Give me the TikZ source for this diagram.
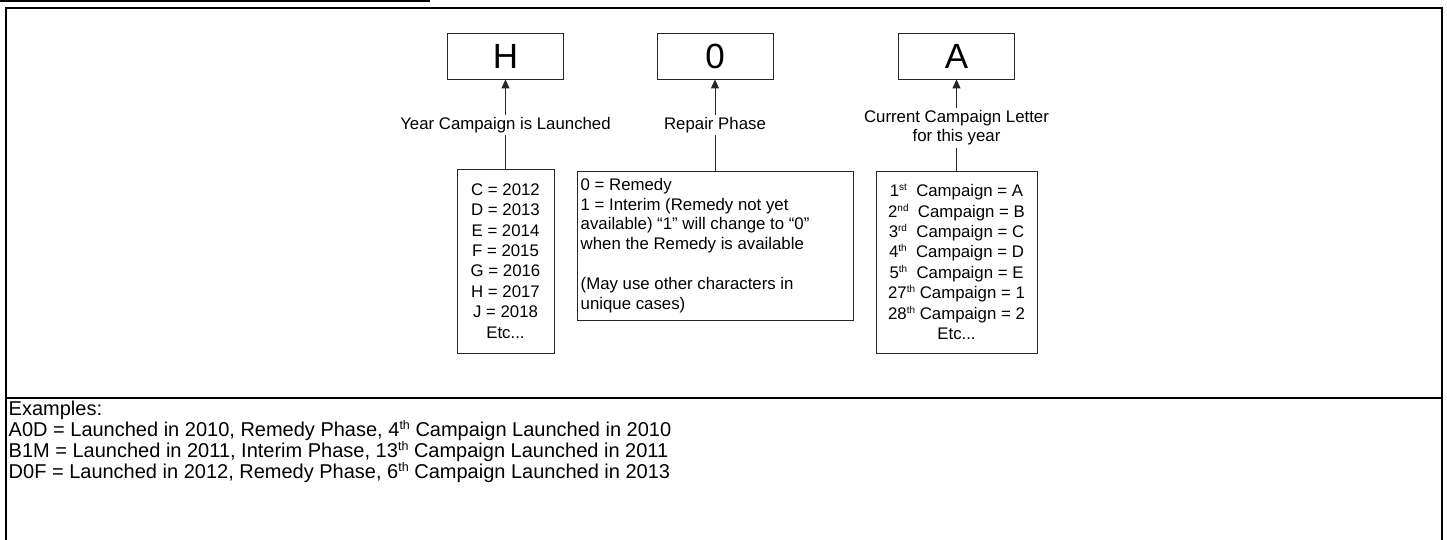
\documentclass[tikz,border=0pt]{standalone}
\usepackage{fontspec}
\setmainfont{Liberation Sans}
\usetikzlibrary{arrows.meta}
\newcommand\sups[1]{\smash{\raisebox{6pt}{\fontsize{10}{10}\selectfont #1}}}
\newcommand\bigsups[1]{\smash{\raisebox{7pt}{\fontsize{12.5}{12.5}\selectfont #1}}}
\begin{document}
\begin{tikzpicture}[x=1pt,y=-1pt,
  frame/.style={line width=2pt,draw=black},
  letter/.style={draw=black!85,line width=0.8pt,minimum width=116pt,minimum height=46pt,inner sep=0pt,font=\fontsize{35}{40}\selectfont},
  lbl/.style={font=\fontsize{16.8}{19.3}\selectfont,align=center,inner sep=2pt,text depth=3.5pt},
  listbox/.style={draw=black!85,line width=0.8pt,inner sep=0pt,align=center,font=\fontsize{16.8}{20.4}\selectfont},
  conn/.style={line width=0.8pt,draw=black!85},
  arr/.style={conn,-{Triangle[length=9pt,width=8pt]}},
  txt/.style={inner sep=0pt,align=left,anchor=north west}]
\useasboundingbox (0,0) rectangle (1447,540);
% heading underline and frame
\draw[line width=2pt] (0,1) -- (430,1);
\draw[frame] (6,542) -- (6,8) -- (1442,8) -- (1442,542);
\draw[frame] (6,398) -- (1442,398);
% code letters
\node[letter] (H) at (505.5,56) {H};
\node[letter] (Z) at (715,56) {0};
\node[letter] (A) at (956.5,56) {A};
% labels
\node[lbl] (yl) at (505.5,125) {Year Campaign is Launched};
\node[lbl] (rl) at (715,125) {Repair Phase};
\node[lbl] (cl) at (956.5,128) {Current Campaign Letter\\for this year};
% list boxes
\node[listbox,minimum width=97pt,minimum height=184pt] (yr) at (505.5,261)
  {C = 2012\\D = 2013\\E = 2014\\F = 2015\\G = 2016\\H = 2017\\J = 2018\\Etc...};
\node[draw=black!85,line width=0.8pt,minimum width=276pt,minimum height=149pt,inner sep=0pt] (rp) at (715,245.5) {};
\node[txt,font=\fontsize{16.8}{19.8}\selectfont] (rpt) at (580.5,178)
  {0 = Remedy\\1 = Interim (Remedy not yet\\available) “1” will change to “0”\\when the Remedy is available\\[19.8pt](May use other characters in\\unique cases)};
\node[listbox,minimum width=161pt,minimum height=182pt] (cp) at (956.5,262)
  {1\sups{st}~~Campaign = A\\2\sups{nd}~~Campaign = B\\3\sups{rd}~~Campaign = C\\4\sups{th}~~Campaign = D\\5\sups{th}~~Campaign = E\\27\sups{th} Campaign = 1\\28\sups{th} Campaign = 2\\Etc...};
% connectors
\draw[arr] (yl.north) -- (H.south);
\draw[arr] (rl.north) -- (Z.south);
\draw[arr] (cl.north) -- (A.south);
\draw[conn] (yr.north) -- (yl.south);
\draw[conn] (rp.north) -- (rl.south);
\draw[conn] (cp.north) -- (cl.south);
% examples
\node[txt,font=\fontsize{20}{21}\selectfont] (ex) at (8.5,400.5)
  {Examples:\\A0D = Launched in 2010, Remedy Phase, 4\bigsups{th} Campaign Launched in 2010\\B1M = Launched in 2011, Interim Phase, 13\bigsups{th} Campaign Launched in 2011\\D0F = Launched in 2012, Remedy Phase, 6\bigsups{th} Campaign Launched in 2013};
\end{tikzpicture}
\end{document}
